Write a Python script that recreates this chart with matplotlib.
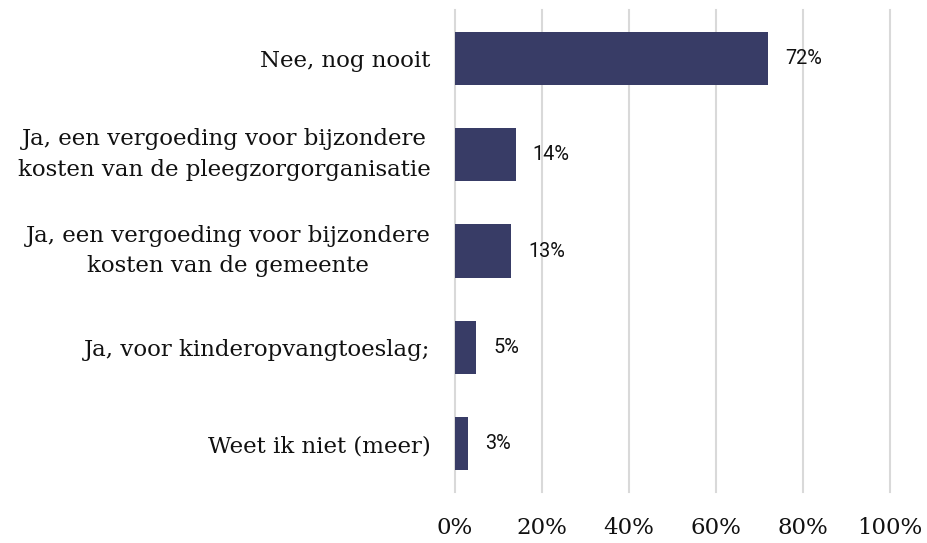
import matplotlib
matplotlib.use("Agg")
import matplotlib.pyplot as plt
from matplotlib.ticker import FuncFormatter

categories = [
    "Nee, nog nooit",
    "Ja, een vergoeding voor bijzondere\nkosten van de pleegzorgorganisatie",
    "Ja, een vergoeding voor bijzondere\nkosten van de gemeente",
    "Ja, voor kinderopvangtoeslag;",
    "Weet ik niet (meer)",
]
values = [72, 14, 13, 5, 3]
xticks = [0, 20, 40, 60, 80, 100]

bar_color = "#383c66"
grid_color = "#d9d9d9"

fig = plt.figure(figsize=(9.27, 5.43), dpi=100)
ax = fig.add_axes([0.4905, 0.0939, 0.9598 - 0.4905, 0.9816 - 0.0939])

y = list(range(len(categories)))
ax.barh(y, values, height=0.55, color=bar_color, zorder=3)
ax.set_ylim(len(categories) - 0.5, -0.5)
ax.set_xlim(0, 100)

ax.set_xticks(xticks)
ax.xaxis.set_major_formatter(FuncFormatter(lambda v, p: f"{int(v)}%"))
ax.grid(axis="x", color=grid_color, linewidth=1.5, zorder=0)
ax.set_axisbelow(True)
for gl in ax.get_xgridlines():
    gl.set_clip_on(False)
for s in ax.spines.values():
    s.set_visible(False)
ax.tick_params(axis="both", length=0)
ax.tick_params(axis="x", pad=18)
ax.tick_params(axis="y", pad=17.5)

ax.set_yticks(y)
ax.set_yticklabels(categories, family="DejaVu Serif", fontsize=16.5, color="#111111",
                   linespacing=1.5)
for lbl in ax.get_yticklabels():
    lbl.set_horizontalalignment("right")
    lbl.set_multialignment("center")
    if "\n" in lbl.get_text():
        lbl.set_verticalalignment("center")
for lbl in ax.get_xticklabels():
    lbl.set_family("DejaVu Serif")
    lbl.set_fontsize(16.5)
    lbl.set_color("#111111")

for yi, v in zip(y, values):
    ax.annotate(f"{v}%", xy=(v, yi), xytext=(12.2, 0), textcoords="offset points",
                va="center", ha="left", family="Roboto", fontsize=14.3, color="#111111")

fig.savefig("out.png", dpi=100, facecolor="white")
